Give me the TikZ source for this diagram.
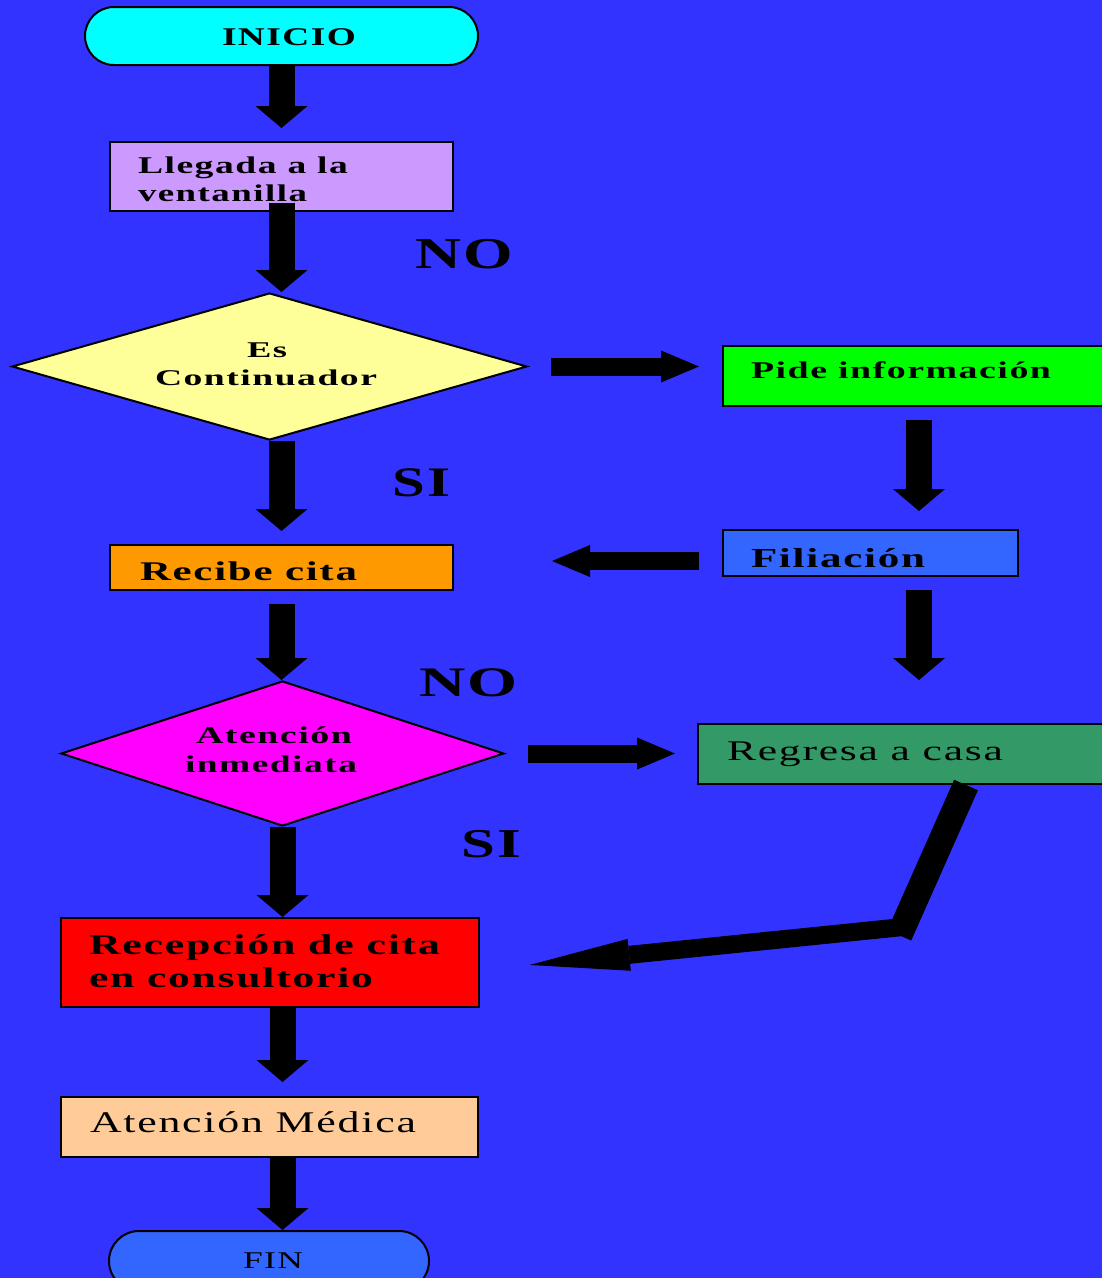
\documentclass[tikz,border=0pt]{standalone}
\usepackage{fontspec}
\setmainfont{Liberation Serif}[LetterSpace=4]
\usetikzlibrary{arrows.meta,shapes.geometric,calc}
\definecolor{bgblue}{HTML}{3333FF}
\definecolor{cInicio}{HTML}{00FFFF}
\definecolor{cLlegada}{HTML}{CC99FF}
\definecolor{cEs}{HTML}{FFFF99}
\definecolor{cPide}{HTML}{00FF00}
\definecolor{cRecibe}{HTML}{FF9900}
\definecolor{cFil}{HTML}{3366FF}
\definecolor{cAtn}{HTML}{FF00FF}
\definecolor{cRegresa}{HTML}{339966}
\definecolor{cRecep}{HTML}{FF0000}
\definecolor{cMedica}{HTML}{FFCC99}
\definecolor{cFin}{HTML}{3366FF}
\newcommand{\txb}[3]{\resizebox{#1pt}{\height}{\fontsize{#2pt}{#2pt}\selectfont\bfseries #3}}
\newcommand{\txr}[3]{\resizebox{#1pt}{\height}{\fontsize{#2pt}{#2pt}\selectfont #3}}
\tikzset{
  box/.style={draw=black, line width=2pt, inner sep=0pt},
  dia/.style={box, diamond},
  lbl/.style={anchor=base west, inner sep=0pt, outer sep=0pt},
  varrow/.style={line width=26pt, -{Triangle[width=52pt,length=22pt,line width=0pt]}},
  harrow/.style={line width=18pt, -{Triangle[width=32pt,length=38pt,line width=0pt]}},
}
\begin{document}
\begin{tikzpicture}[x=1pt,y=-1pt]
\clip (0,0) rectangle (1102,1278);
\fill[bgblue] (0,0) rectangle (1102,1278);
% shapes
\node[box, fill=cInicio, rounded corners=29pt, minimum width=393pt, minimum height=58pt] (inicio) at (281.5,36) {};
\node[box, fill=cLlegada, minimum width=343pt, minimum height=69pt] (llegada) at (281.5,176.5) {};
\node[dia, fill=cEs, minimum width=515pt, minimum height=147pt] (es) at (269.5,366.5) {};
\node[box, fill=cPide, minimum width=392pt, minimum height=60pt] (pide) at (919,376) {};
\node[box, fill=cRecibe, minimum width=343pt, minimum height=45pt] (recibe) at (281.5,567.5) {};
\node[box, fill=cFil, minimum width=295pt, minimum height=46pt] (fil) at (870.5,553) {};
\node[dia, fill=cAtn, minimum width=443pt, minimum height=145pt] (d2) at (282.5,753.5) {};
\node[box, fill=cRegresa, minimum width=417pt, minimum height=60pt] (regresa) at (906.5,754) {};
\node[box, fill=cRecep, minimum width=418pt, minimum height=89pt] (recep) at (270,962.5) {};
\node[box, fill=cMedica, minimum width=417pt, minimum height=60pt] (medica) at (269.5,1127) {};
\node[box, fill=cFin, rounded corners=30pt, minimum width=320pt, minimum height=60pt] (fin) at (269,1261) {};
% texts
\node[lbl] (tInicio) at (222,45) {\txb{134}{25.5}{INICIO}};
\node[lbl] (tLl1) at (138,173) {\txb{210}{24}{Llegada a la}};
\node[lbl] (tLl2) at (138,201) {\txb{169}{24}{ventanilla}};
\node[lbl] (tEs1) at (247,357) {\txb{40}{22.5}{Es}};
\node[lbl] (tEs2) at (155,385) {\txb{222}{22.5}{Continuador}};
\node[lbl] (tPide) at (751,378) {\txb{300}{24}{Pide información}};
\node[lbl] (tFil) at (751,567) {\txb{174}{27.5}{Filiación}};
\node[lbl] (tRecibe) at (140,580) {\txb{217}{27}{Recibe cita}};
\node[lbl] (tAt1) at (196,743) {\txb{156}{24}{Atención}};
\node[lbl] (tAt2) at (185,772) {\txb{172}{24}{inmediata}};
\node[lbl] (tRegresa) at (727,760) {\txr{276}{28.5}{Regresa a casa}};
\node[lbl] (tRec1) at (89,954) {\txb{351}{28.5}{Recepción de cita}};
\node[lbl] (tRec2) at (89,987) {\txb{284}{28.5}{en consultorio}};
\node[lbl] (tMedica) at (90,1132) {\txr{326}{30}{Atención Médica}};
\node[lbl] (tFin) at (243,1268) {\txr{60}{24}{FIN}};
\node[lbl] (no1) at (415,268) {\txb{98}{44}{NO}};
\node[lbl] (si1) at (392,496) {\txb{58}{42}{SI}};
\node[lbl] (no2) at (419,696) {\txb{99}{42}{NO}};
\node[lbl] (si2) at (461,857) {\txb{60}{41}{SI}};
% connectors
\coordinate (rc) at (919,0);
\draw[varrow, shorten >=13pt] (inicio.south) -- (llegada.north);
\draw[varrow, shorten <=-9pt] (llegada.south) -- (llegada.south |- es.north);
\draw[varrow, shorten >=13pt] (recibe.north |- es.south) -- (recibe.north);
\draw[varrow, shorten <=13pt] (recibe.south) -- (recibe.south |- d2.north);
\draw[varrow] (d2.south) -- (d2.south |- recep.north);
\draw[varrow, shorten >=14pt] (recep.south -| d2.south) -- (medica.north -| d2.south);
\draw[varrow] (medica.south -| d2.south) -- (fin.north -| d2.south);
\draw[varrow, shorten <=13pt, shorten >=18pt] (pide.south -| rc) -- (fil.north -| rc);
\draw[varrow, shorten <=13pt, shorten >=43pt] (fil.south -| rc) -- (regresa.north -| rc);
\draw[harrow, shorten <=23pt, shorten >=23pt] (es.east) -- (es.east -| pide.west);
\draw[harrow, shorten <=23pt, shorten >=98pt] ([yshift=-8pt]fil.west) -- ([yshift=-8pt]fil.west -| recibe.east);
\draw[harrow, shorten <=23pt, shorten >=22pt] (d2.east) -- (d2.east -| regresa.west);
\coordinate (rs) at (966,785);
\coordinate (bend) at (903,927);
\draw[line width=26pt] (rs) -- ($(bend)!-9pt!(rs)$);
\draw[line width=18pt, -{Triangle[width=32pt,length=100pt,line width=0pt]}, shorten >=50pt] (bend) -- ($(recep.east)+(0,7.5)$);
\end{tikzpicture}
\end{document}
